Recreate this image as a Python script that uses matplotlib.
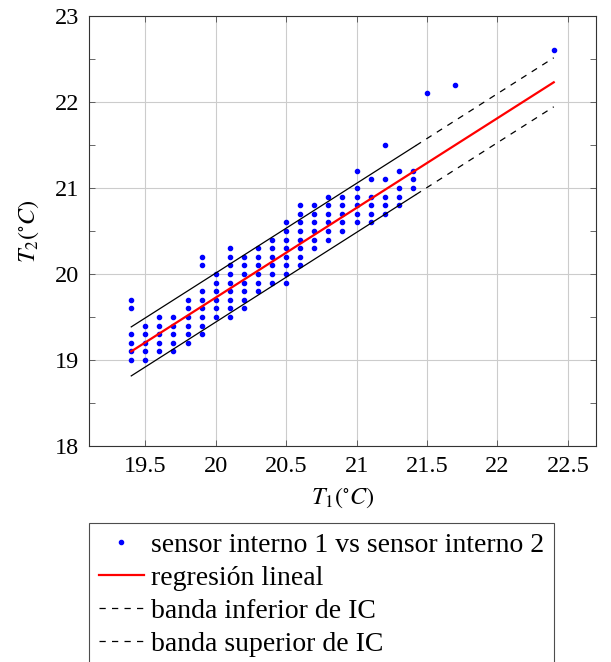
import matplotlib
matplotlib.use('Agg')
import matplotlib.pyplot as plt
import numpy as np
from matplotlib.ticker import MultipleLocator

# sensor interno 1 (T1) -> lecturas del sensor interno 2 (T2)
t1_cols = [19.4, 19.5, 19.6, 19.7, 19.8, 19.9, 20.0, 20.1, 20.2, 20.3,
           20.4, 20.5, 20.6, 20.7, 20.8, 20.9, 21.0, 21.1, 21.2, 21.3,
           21.4, 21.5, 21.7, 22.4]
t2_cols = [
    [19.0, 19.1, 19.2, 19.3, 19.6, 19.7],
    [19.0, 19.1, 19.2, 19.3, 19.4],
    [19.1, 19.2, 19.3, 19.4, 19.5],
    [19.1, 19.2, 19.3, 19.4, 19.5],
    [19.2, 19.3, 19.4, 19.5, 19.6, 19.7],
    [19.3, 19.4, 19.5, 19.6, 19.7, 19.8, 20.1, 20.2],
    [19.5, 19.6, 19.7, 19.8, 19.9, 20.0],
    [19.5, 19.6, 19.7, 19.8, 19.9, 20.0, 20.1, 20.2, 20.3],
    [19.6, 19.7, 19.8, 19.9, 20.0, 20.1, 20.2],
    [19.8, 19.9, 20.0, 20.1, 20.2, 20.3],
    [19.9, 20.0, 20.1, 20.2, 20.3, 20.4],
    [19.9, 20.0, 20.1, 20.2, 20.3, 20.4, 20.5, 20.6],
    [20.1, 20.2, 20.3, 20.4, 20.5, 20.6, 20.7, 20.8],
    [20.3, 20.4, 20.5, 20.6, 20.7, 20.8],
    [20.4, 20.5, 20.6, 20.7, 20.8, 20.9],
    [20.5, 20.6, 20.7, 20.8, 20.9],
    [20.6, 20.7, 20.8, 20.9, 21.0, 21.2],
    [20.6, 20.7, 20.8, 20.9, 21.1],
    [20.7, 20.8, 20.9, 21.1, 21.5],
    [20.8, 20.9, 21.0, 21.2],
    [21.0, 21.1, 21.2],
    [22.1],
    [22.2],
    [22.6],
]
# recta de regresion y banda de IC
reg_pendiente = 1.043
reg_ordenada = -1.134
ic_halfwidth = 0.285
rango_datos = [19.4, 21.42]   # banda continua
rango_extra = [21.42, 22.4]   # banda extrapolada (discontinua)

t1 = np.concatenate([[x] * len(ys) for x, ys in zip(t1_cols, t2_cols)])
t2 = np.concatenate(t2_cols)

a, b = reg_pendiente, reg_ordenada
x_fit = np.array([rango_datos[0], rango_extra[1]])
x_in = np.array(rango_datos)
x_out = np.array(rango_extra)

plt.rcParams['font.family'] = 'serif'
plt.rcParams['font.serif'] = ['Liberation Serif', 'DejaVu Serif']
plt.rcParams['mathtext.fontset'] = 'stix'
plt.rcParams['font.size'] = 17.5
plt.rcParams['lines.scale_dashes'] = False

fig = plt.figure(figsize=(6.11, 6.62), dpi=100)
ax = fig.add_axes([89 / 611, 1 - 446 / 662, (596 - 89) / 611, (446 - 16) / 662])

h_pts, = ax.plot(t1, t2, 'o', color='blue', markersize=3.0, linestyle='none',
                 label='sensor interno 1 vs sensor interno 2')
h_reg, = ax.plot(x_fit, a * x_fit + b, '-', color='red', linewidth=1.6,
                 label='regresión lineal')
ax.plot(x_in, a * x_in + b - ic_halfwidth, '-', color='black', linewidth=0.9)
ax.plot(x_in, a * x_in + b + ic_halfwidth, '-', color='black', linewidth=0.9)
h_inf, = ax.plot(x_out, a * x_out + b - ic_halfwidth, color='black',
                 linewidth=0.9, dashes=(4.5, 4.5), label='banda inferior de IC')
h_sup, = ax.plot(x_out, a * x_out + b + ic_halfwidth, color='black',
                 linewidth=0.9, dashes=(4.5, 4.5), label='banda superior de IC')

ax.set_xlim(19.1, 22.7)
ax.set_ylim(18, 23)
ax.yaxis.set_major_locator(MultipleLocator(1))
ax.yaxis.set_minor_locator(MultipleLocator(0.5))
ax.set_xticks([19.5, 20, 20.5, 21, 21.5, 22, 22.5])
ax.set_xticklabels(['19.5', '20', '20.5', '21', '21.5', '22', '22.5'])
ax.grid(True, which='major', color='#cccccc', linewidth=0.8)
ax.set_axisbelow(True)
ax.tick_params(which='both', direction='in', top=True, right=True,
               length=4, width=0.6, color='0.3', pad=7)
for s in ax.spines.values():
    s.set_linewidth(0.8)
    s.set_color('0.2')

ax.set_xlabel(r'$T_1(^{\circ}C)$', labelpad=6)
ax.set_ylabel(r'$T_2(^{\circ}C)$', labelpad=10)

handles = [h_pts, h_reg, h_inf, h_sup]
leg = fig.legend(handles, [h.get_label() for h in handles],
                 loc='upper left', bbox_to_anchor=(89 / 611, 1 - 523 / 662),
                 frameon=True, fancybox=False, edgecolor='0.3', framealpha=1,
                 fontsize=20, borderpad=0.35, handlelength=1.62,
                 handletextpad=0.26, labelspacing=0.27, numpoints=1,
                 borderaxespad=0)
leg.get_frame().set_linewidth(0.8)

fig.savefig('out.png', dpi=100)
